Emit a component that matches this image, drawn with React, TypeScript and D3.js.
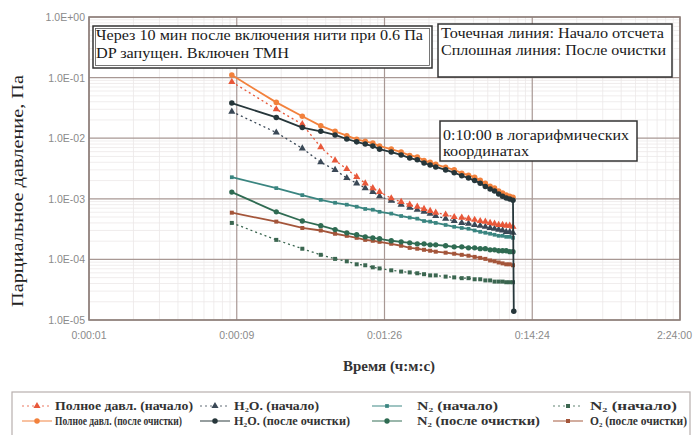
import React, { useEffect, useRef } from 'react';
import * as d3 from 'd3';

// time since start of counting, seconds
const times = [8, 16, 24, 32, 40, 48, 56, 64, 72, 80, 96, 112, 128, 144, 160, 176, 192, 224, 256, 288, 320, 352, 384, 416, 448, 480, 512, 544, 576, 608, 640, 648];

const xTicks = [0.864, 8.64, 86.4, 864, 8640];
const xTickLabels = ['0:00:01', '0:00:09', '0:01:26', '0:14:24', '2:24:00'];
const yTicks = [1, 1e-1, 1e-2, 1e-3, 1e-4, 1e-5];
const yTickLabels = ['1.0E+00', '1.0E-01', '1.0E-02', '1.0E-03', '1.0E-04', '1.0E-05'];

// partial pressures, Pa
const totalStart = [8.5e-2, 3.0e-2, 1.7e-2, 7.1e-3, 4.3e-3, 3.1e-3, 2.3e-3, 1.8e-3, 1.5e-3, 1.3e-3, 1.02e-3, 8.9e-4, 8.0e-4, 7.4e-4, 6.8e-4, 6.3e-4, 5.9e-4, 5.5e-4, 5.0e-4, 4.9e-4, 4.7e-4, 4.5e-4, 4.3e-4, 4.2e-4, 4.0e-4, 3.9e-4, 3.7e-4, 3.7e-4, 3.6e-4, 3.6e-4, 3.45e-4];
const totalClean = [1.1e-1, 3.9e-2, 2.3e-2, 1.6e-2, 1.3e-2, 1.1e-2, 9.6e-3, 8.9e-3, 8.3e-3, 7.4e-3, 6.6e-3, 5.9e-3, 5.2e-3, 4.9e-3, 4.3e-3, 4.0e-3, 3.7e-3, 3.3e-3, 3.0e-3, 2.65e-3, 2.45e-3, 2.27e-3, 2.03e-3, 1.81e-3, 1.61e-3, 1.5e-3, 1.34e-3, 1.24e-3, 1.15e-3, 1.1e-3, 1.06e-3];
const h2oStart = [2.75e-2, 1.24e-2, 6.8e-3, 4.0e-3, 3.0e-3, 2.2e-3, 1.8e-3, 1.5e-3, 1.3e-3, 1.1e-3, 9.3e-4, 8.0e-4, 7.1e-4, 6.6e-4, 6.1e-4, 5.7e-4, 5.2e-4, 4.7e-4, 4.3e-4, 4.0e-4, 3.9e-4, 3.7e-4, 3.6e-4, 3.45e-4, 3.3e-4, 3.2e-4, 3.1e-4, 3.0e-4, 2.85e-4, 2.85e-4, 2.75e-4];
const h2oClean = [3.8e-2, 2.2e-2, 1.5e-2, 1.3e-2, 1.13e-2, 9.7e-3, 8.7e-3, 8.0e-3, 7.4e-3, 6.6e-3, 5.9e-3, 5.3e-3, 4.7e-3, 4.4e-3, 3.9e-3, 3.6e-3, 3.35e-3, 3.0e-3, 2.7e-3, 2.4e-3, 2.2e-3, 2.0e-3, 1.8e-3, 1.6e-3, 1.45e-3, 1.35e-3, 1.2e-3, 1.1e-3, 1.03e-3, 9.9e-4, 9.5e-4, 1.4e-5];
const n2Start = [2.27e-3, 1.5e-3, 1.15e-3, 9.6e-4, 8.6e-4, 8.0e-4, 7.4e-4, 6.8e-4, 6.6e-4, 6.1e-4, 5.7e-4, 5.2e-4, 4.9e-4, 4.7e-4, 4.3e-4, 4.2e-4, 4.0e-4, 3.7e-4, 3.45e-4, 3.3e-4, 3.2e-4, 3.0e-4, 2.85e-4, 2.75e-4, 2.65e-4, 2.55e-4, 2.45e-4, 2.45e-4, 2.36e-4, 2.36e-4, 2.27e-4];
const n2Clean = [1.29e-3, 6.1e-4, 4.3e-4, 3.6e-4, 3.1e-4, 2.75e-4, 2.55e-4, 2.36e-4, 2.27e-4, 2.19e-4, 2.03e-4, 1.95e-4, 1.88e-4, 1.81e-4, 1.81e-4, 1.74e-4, 1.74e-4, 1.68e-4, 1.61e-4, 1.61e-4, 1.55e-4, 1.55e-4, 1.5e-4, 1.5e-4, 1.44e-4, 1.44e-4, 1.39e-4, 1.39e-4, 1.39e-4, 1.34e-4, 1.34e-4];
const n2Start2 = [4.0e-4, 2.1e-4, 1.5e-4, 1.19e-4, 1.02e-4, 9.3e-5, 8.3e-5, 8.0e-5, 7.4e-5, 7.1e-5, 6.6e-5, 6.3e-5, 6.1e-5, 5.9e-5, 5.7e-5, 5.45e-5, 5.45e-5, 5.2e-5, 5.05e-5, 4.9e-5, 4.9e-5, 4.7e-5, 4.7e-5, 4.5e-5, 4.5e-5, 4.3e-5, 4.3e-5, 4.3e-5, 4.2e-5, 4.2e-5, 4.2e-5];
const o2Clean = [5.9e-4, 4.2e-4, 3.3e-4, 3.0e-4, 2.65e-4, 2.45e-4, 2.27e-4, 2.1e-4, 2.03e-4, 1.95e-4, 1.81e-4, 1.68e-4, 1.55e-4, 1.5e-4, 1.44e-4, 1.39e-4, 1.34e-4, 1.29e-4, 1.24e-4, 1.19e-4, 1.15e-4, 1.1e-4, 1.06e-4, 1.02e-4, 9.6e-5, 9.3e-5, 8.9e-5, 8.6e-5, 8.3e-5, 8.3e-5, 8.0e-5];

const seriesNames = ['Полное давл. (начало)', 'Полное давл. (после очистки)', 'H₂O. (начало)', 'H₂O. (после очистки)', 'N₂ (начало)', 'N₂ (после очистки)', 'N₂ (начало)', 'O₂ (после очистки)'];

const W = 693, H = 435;
const left = 89, right = 680, top = 17, bottom = 320;
const SERIF = "'Liberation Serif', 'DejaVu Serif', serif";
const SANS = "'Liberation Sans', Arial, sans-serif";

const App = () => {
  const ref = useRef<SVGSVGElement>(null);

  useEffect(() => {
    const svg = d3.select(ref.current);
    svg.selectAll('*').remove();

    const x = d3.scaleLog().domain([0.864, 8640]).range([left, right]);
    const y = d3.scaleLog().domain([1e-5, 1]).range([bottom, top]);

    const series = [
      { name: seriesNames[6], d: n2Start2, color: '#3b6650', dash: '2,3', sym: d3.symbolSquare, size: 16 },
      { name: seriesNames[7], d: o2Clean, color: '#a4553a', dash: null, sym: d3.symbolSquare, size: 16 },
      { name: seriesNames[5], d: n2Clean, color: '#2f6b52', dash: null, sym: d3.symbolCircle, size: 22 },
      { name: seriesNames[4], d: n2Start, color: '#3a8580', dash: null, sym: d3.symbolSquare, size: 14 },
      { name: seriesNames[2], d: h2oStart, color: '#3a4856', dash: '2,3', sym: d3.symbolTriangle, size: 22 },
      { name: seriesNames[0], d: totalStart, color: '#e8583a', dash: '2,3', sym: d3.symbolTriangle, size: 22 },
      { name: seriesNames[1], d: totalClean, color: '#f2813c', dash: null, sym: d3.symbolCircle, size: 24 },
      { name: seriesNames[3], d: h2oClean, color: '#26363a', dash: null, sym: d3.symbolCircle, size: 24 },
    ];

    // minor grid
    const g = svg.append('g');
    const minorX: number[] = [], minorY: number[] = [];
    xTicks.slice(0, -1).forEach(t => { for (let k = 2; k < 10; k++) minorX.push(t * k); });
    yTicks.slice(1).forEach(t => { for (let k = 2; k < 10; k++) minorY.push(t * k); });
    g.selectAll('.mx').data(minorX).enter().append('line')
      .attr('x1', d => x(d)).attr('x2', d => x(d)).attr('y1', top).attr('y2', bottom)
      .attr('stroke', '#ece9e9').attr('stroke-width', 0.8);
    g.selectAll('.my').data(minorY).enter().append('line')
      .attr('y1', d => y(d)).attr('y2', d => y(d)).attr('x1', left).attr('x2', right)
      .attr('stroke', '#ece9e9').attr('stroke-width', 0.8);

    // major grid
    g.selectAll('.gx').data(xTicks).enter().append('line')
      .attr('x1', d => x(d)).attr('x2', d => x(d)).attr('y1', top).attr('y2', bottom)
      .attr('stroke', '#a89894').attr('stroke-width', 1.2);
    g.selectAll('.gy').data(yTicks).enter().append('line')
      .attr('y1', d => y(d)).attr('y2', d => y(d)).attr('x1', left).attr('x2', right)
      .attr('stroke', '#a89894').attr('stroke-width', 1.2);
    g.append('rect').attr('x', left).attr('y', top).attr('width', right - left).attr('height', bottom - top)
      .attr('fill', 'none').attr('stroke', '#8e7f7a').attr('stroke-width', 1.6);

    // tick labels
    svg.selectAll('.yl').data(yTicks).enter().append('text')
      .attr('x', left - 4).attr('y', d => y(d) + 4).attr('text-anchor', 'end')
      .attr('font-family', SANS).attr('font-size', 10.5).attr('fill', '#8a8a8a')
      .text((d, i) => yTickLabels[i]);
    svg.selectAll('.xl').data(xTicks).enter().append('text')
      .attr('x', (d, i) => i === xTicks.length - 1 ? W - 1 : x(d)).attr('y', 339)
      .attr('text-anchor', (d, i) => i === xTicks.length - 1 ? 'end' : 'middle')
      .attr('font-family', SANS).attr('font-size', 10.5).attr('fill', '#8a8a8a')
      .text((d, i) => xTickLabels[i]);

    // series
    const line = d3.line<number>().x((d, i) => x(times[i])).y(d => y(d));
    series.forEach(s => {
      const sg = svg.append('g');
      sg.append('path').datum(s.d).attr('d', line).attr('fill', 'none')
        .attr('stroke', s.color).attr('stroke-width', s.dash ? 1.3 : 1.8)
        .attr('stroke-dasharray', s.dash);
      sg.selectAll('path.m').data(s.d).enter().append('path').attr('class', 'm')
        .attr('transform', (d, i) => 'translate(' + x(times[i]) + ',' + y(d) + ')')
        .attr('d', d3.symbol().type(s.sym).size(s.size)).attr('fill', s.color);
    });

    // axis titles
    svg.append('text').attr('transform', 'translate(23,191) rotate(-90)').attr('text-anchor', 'middle')
      .attr('font-family', SERIF).attr('font-size', 17).attr('fill', '#222')
      .attr('textLength', 232).attr('lengthAdjust', 'spacingAndGlyphs')
      .text('Парциальное давление, Па');
    svg.append('text').attr('x', 389).attr('y', 371).attr('text-anchor', 'middle')
      .attr('font-family', SERIF).attr('font-size', 14).attr('font-weight', 'bold').attr('fill', '#333')
      .attr('textLength', 92).attr('lengthAdjust', 'spacingAndGlyphs')
      .text('Время (ч:м:с)');

    // annotation boxes
    const notes = [
      { x: 93, y: 26, w: 339, h: 42, lines: ['Через 10 мин после включения нити при 0.6 Па', 'DP запущен. Включен ТМН'], lens: [327, 193], base: [40, 58], dbl: true },
      { x: 438, y: 24, w: 234, h: 53, lines: ['Точечная линия: Начало отсчета', 'Сплошная линия: После очистки'], lens: [223, 225], base: [38, 55], dbl: false },
      { x: 440, y: 121, w: 197, h: 40, lines: ['0:10:00 в логарифмических', 'координатах'], lens: [186, 86], base: [140, 156], dbl: false },
    ];
    notes.forEach(n => {
      svg.append('rect').attr('x', n.x).attr('y', n.y).attr('width', n.w).attr('height', n.h)
        .attr('fill', '#fff').attr('stroke', '#333').attr('stroke-width', 1.5);
      if (n.dbl) svg.append('rect').attr('x', n.x + 2.5).attr('y', n.y + 2.5).attr('width', n.w - 5).attr('height', n.h - 5)
        .attr('fill', 'none').attr('stroke', '#555').attr('stroke-width', 0.8);
      n.lines.forEach((t, i) => {
        svg.append('text').attr('x', n.x + 3).attr('y', n.base[i])
          .attr('font-family', SERIF).attr('font-size', 14.5).attr('fill', '#1a1a1a')
          .attr('textLength', n.lens[i]).attr('lengthAdjust', 'spacingAndGlyphs').text(t);
      });
    });

    // legend
    svg.append('rect').attr('x', 12).attr('y', 392).attr('width', 678).attr('height', 50)
      .attr('fill', 'none').attr('stroke', '#b8b0ae').attr('stroke-width', 1.2);
    const legendOrder = [5, 6, 4, 7, 3, 2, 0, 1];
    const cols = [{ sx: 22, tx: 55, lens: [138, 127] }, { sx: 200, tx: 234, lens: [85, 116] }, { sx: 372, tx: 417, lens: [81, 123] }, { sx: 553, tx: 590, lens: [87, 97] }];
    legendOrder.forEach((si, k) => {
      const s = series[si];
      const c = cols[Math.floor(k / 2)], row = k % 2;
      const ly = row ? 421 : 406;
      svg.append('line').attr('x1', c.sx).attr('x2', c.sx + 30).attr('y1', ly).attr('y2', ly)
        .attr('stroke', s.color).attr('stroke-width', 1.2).attr('stroke-dasharray', s.dash).attr('opacity', 0.8);
      svg.append('path').attr('transform', 'translate(' + (c.sx + 15) + ',' + ly + ')')
        .attr('d', d3.symbol().type(s.sym).size(s.size)).attr('fill', s.color);
      svg.append('text').attr('x', c.tx).attr('y', ly + 4)
        .attr('font-family', SERIF).attr('font-size', 11.5).attr('font-weight', 'bold').attr('fill', '#333')
        .attr('textLength', c.lens[row]).attr('lengthAdjust', 'spacingAndGlyphs').text(s.name);
    });
  }, []);

  return (
    <svg ref={ref} width={W} height={H} style={{ position: 'absolute', left: 0, top: 0, background: '#fff' }} />
  );
};

export default App;
